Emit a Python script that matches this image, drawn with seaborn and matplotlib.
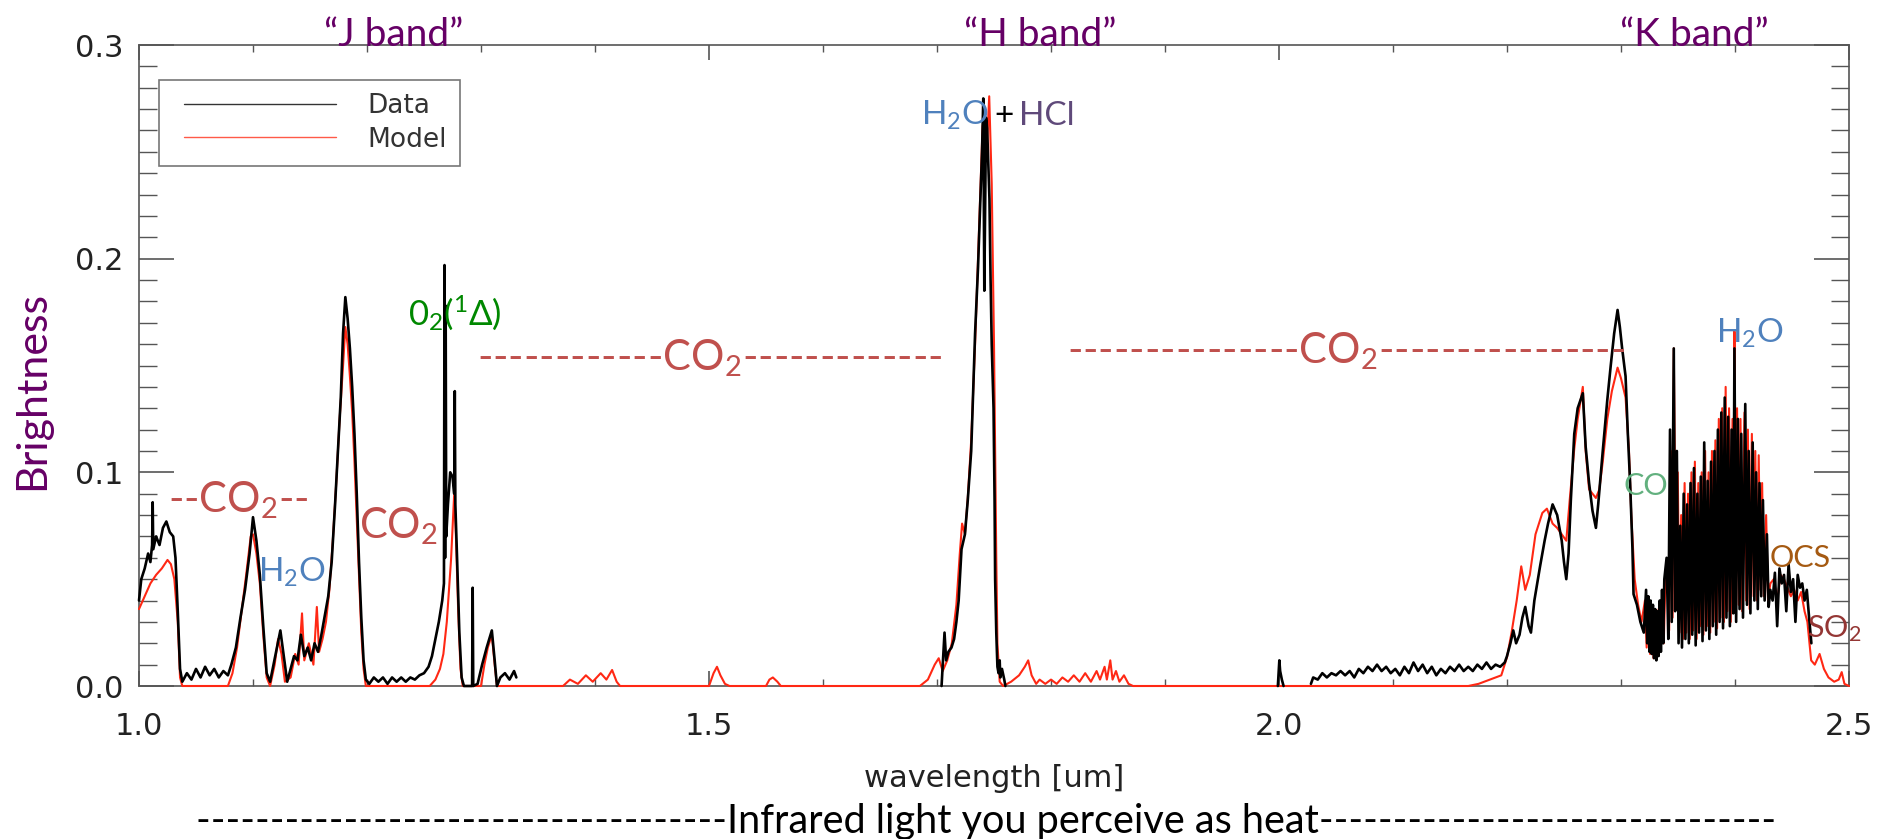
import numpy as np
import pandas as pd
import matplotlib
matplotlib.use("Agg")
import matplotlib.pyplot as plt
from matplotlib.lines import Line2D
from matplotlib.legend_handler import HandlerLine2D
from matplotlib.ticker import MultipleLocator, FormatStrFormatter
import seaborn as sns

# observed spectrum (wavelength um, brightness), one list per continuous piece
data_j = [
    (1.000, 0.040), (1.002, 0.050), (1.005, 0.055), (1.008, 0.062), (1.010, 0.058),
    (1.0115, 0.066), (1.012, 0.086), (1.0125, 0.064), (1.015, 0.070), (1.018, 0.066),
    (1.021, 0.074), (1.024, 0.077), (1.027, 0.072), (1.030, 0.070), (1.032, 0.060),
    (1.034, 0.035), (1.036, 0.008), (1.038, 0.002), (1.042, 0.006), (1.046, 0.003),
    (1.050, 0.008), (1.054, 0.004), (1.058, 0.009), (1.062, 0.005), (1.066, 0.008),
    (1.070, 0.004), (1.074, 0.007), (1.078, 0.005), (1.081, 0.010), (1.085, 0.018),
    (1.089, 0.032), (1.093, 0.045), (1.097, 0.062), (1.100, 0.079), (1.103, 0.068),
    (1.106, 0.052), (1.109, 0.028), (1.112, 0.006), (1.115, 0.002), (1.118, 0.010),
    (1.121, 0.018), (1.124, 0.026), (1.127, 0.014), (1.130, 0.002), (1.133, 0.008),
    (1.136, 0.014), (1.139, 0.012), (1.142, 0.024), (1.145, 0.014), (1.148, 0.018),
    (1.151, 0.012), (1.154, 0.020), (1.157, 0.016), (1.160, 0.024), (1.163, 0.033),
    (1.166, 0.042), (1.169, 0.058), (1.172, 0.085), (1.1745, 0.110), (1.177, 0.135),
    (1.179, 0.165), (1.181, 0.182), (1.183, 0.172), (1.185, 0.158), (1.187, 0.140),
    (1.189, 0.118), (1.191, 0.090), (1.193, 0.058), (1.195, 0.032), (1.197, 0.012),
    (1.199, 0.003), (1.202, 0.001), (1.206, 0.004), (1.210, 0.002), (1.214, 0.004),
    (1.218, 0.001), (1.222, 0.004), (1.226, 0.002), (1.230, 0.004), (1.234, 0.002),
    (1.238, 0.004), (1.242, 0.003), (1.246, 0.005), (1.250, 0.006), (1.254, 0.009),
    (1.257, 0.014), (1.260, 0.022), (1.263, 0.030), (1.266, 0.040), (1.2675, 0.048),
    (1.268, 0.197), (1.2685, 0.060), (1.269, 0.178), (1.2695, 0.070), (1.271, 0.085),
    (1.273, 0.100), (1.275, 0.098), (1.2765, 0.090), (1.277, 0.138), (1.2775, 0.085),
    (1.279, 0.060), (1.281, 0.025), (1.283, 0.004), (1.285, 0.000), (1.2922, 0.000),
    (1.2927, 0.046), (1.2932, 0.000), (1.297, 0.001), (1.301, 0.010), (1.305, 0.018),
    (1.3095, 0.026), (1.312, 0.012), (1.314, 0.000), (1.317, 0.004), (1.321, 0.006),
    (1.325, 0.003), (1.329, 0.007), (1.331, 0.004),
]
data_h = [
    (1.704, 0.000), (1.7066, 0.025), (1.708, 0.012), (1.710, 0.016), (1.7127, 0.018),
    (1.715, 0.022), (1.717, 0.030), (1.719, 0.040), (1.7215, 0.064), (1.7245, 0.071),
    (1.727, 0.087), (1.730, 0.110), (1.7334, 0.165), (1.736, 0.196), (1.738, 0.227),
    (1.7395, 0.250), (1.7406, 0.275), (1.7415, 0.185), (1.743, 0.266), (1.744, 0.261),
    (1.746, 0.228), (1.747, 0.190), (1.748, 0.160), (1.7496, 0.130), (1.7505, 0.087),
    (1.751, 0.050), (1.752, 0.025), (1.753, 0.009), (1.754, 0.006), (1.755, 0.012),
    (1.7555, 0.004), (1.757, 0.008), (1.759, 0.003), (1.760, 0.000),
]
data_2um = [(1.999, 0.000), (2.0003, 0.012), (2.001, 0.007), (2.0025, 0.003), (2.004, 0.000)]
data_k = [
    (2.028, 0.001), (2.030, 0.004), (2.034, 0.003), (2.038, 0.006), (2.042, 0.004),
    (2.046, 0.006), (2.050, 0.005), (2.054, 0.007), (2.058, 0.005), (2.062, 0.007),
    (2.066, 0.004), (2.070, 0.008), (2.074, 0.006), (2.078, 0.009), (2.082, 0.007),
    (2.086, 0.010), (2.090, 0.007), (2.094, 0.009), (2.098, 0.006), (2.102, 0.008),
    (2.106, 0.005), (2.110, 0.009), (2.114, 0.006), (2.118, 0.011), (2.122, 0.007),
    (2.126, 0.010), (2.130, 0.006), (2.134, 0.009), (2.138, 0.005), (2.142, 0.008),
    (2.146, 0.006), (2.150, 0.009), (2.154, 0.007), (2.158, 0.010), (2.162, 0.007),
    (2.166, 0.009), (2.170, 0.007), (2.174, 0.010), (2.178, 0.008), (2.182, 0.011),
    (2.186, 0.008), (2.190, 0.010), (2.194, 0.009), (2.198, 0.011),
    (2.200, 0.014), (2.203, 0.020), (2.2055, 0.026), (2.208, 0.020), (2.211, 0.024),
    (2.2135, 0.032), (2.216, 0.037), (2.219, 0.028), (2.221, 0.025), (2.224, 0.040),
    (2.229, 0.056), (2.233, 0.068), (2.236, 0.076), (2.240, 0.085), (2.244, 0.080),
    (2.248, 0.068), (2.250, 0.058), (2.252, 0.050), (2.254, 0.062), (2.256, 0.087),
    (2.259, 0.118), (2.262, 0.130), (2.2665, 0.137), (2.269, 0.112), (2.272, 0.095),
    (2.275, 0.082), (2.278, 0.074), (2.280, 0.085), (2.284, 0.110), (2.288, 0.134),
    (2.291, 0.150), (2.294, 0.165), (2.297, 0.176), (2.299, 0.168), (2.301, 0.158),
    (2.304, 0.145), (2.306, 0.118), (2.308, 0.095), (2.310, 0.065), (2.311, 0.043),
    (2.314, 0.038), (2.317, 0.030), (2.320, 0.025),
    (2.322, 0.045), (2.323, 0.020), (2.324, 0.042), (2.325, 0.016), (2.326, 0.040),
    (2.327, 0.015), (2.328, 0.038), (2.329, 0.013), (2.330, 0.036), (2.331, 0.012),
    (2.332, 0.035), (2.333, 0.014), (2.334, 0.040), (2.335, 0.016), (2.336, 0.045),
    (2.337, 0.020), (2.338, 0.050),
    (2.3400, 0.060), (2.3415, 0.022), (2.3430, 0.120), (2.3445, 0.030), (2.3463, 0.158),
    (2.3475, 0.035), (2.3490, 0.110), (2.3505, 0.020), (2.3520, 0.075), (2.3535, 0.018),
    (2.3550, 0.090), (2.3565, 0.022), (2.3580, 0.085), (2.3595, 0.020), (2.3610, 0.095),
    (2.3625, 0.024), (2.3640, 0.102), (2.3655, 0.019), (2.3670, 0.090), (2.3685, 0.025),
    (2.3700, 0.098), (2.3715, 0.021), (2.3730, 0.114), (2.3745, 0.026), (2.3760, 0.096),
    (2.3775, 0.022), (2.3790, 0.105), (2.3805, 0.028), (2.3820, 0.110), (2.3835, 0.024),
    (2.3850, 0.120), (2.3865, 0.030), (2.3880, 0.128), (2.3895, 0.027), (2.3910, 0.135),
    (2.3925, 0.032), (2.3940, 0.126), (2.3955, 0.028), (2.3970, 0.120), (2.3985, 0.034),
    (2.3995, 0.158), (2.4010, 0.030), (2.4025, 0.125), (2.4040, 0.036), (2.4055, 0.118),
    (2.4070, 0.032), (2.4090, 0.132), (2.4105, 0.038), (2.4120, 0.110), (2.4135, 0.034),
    (2.4155, 0.114), (2.4170, 0.040), (2.4185, 0.100), (2.4200, 0.036), (2.4215, 0.095),
    (2.4230, 0.042), (2.4245, 0.087), (2.4260, 0.040), (2.4280, 0.071),
    (2.4295, 0.037), (2.431, 0.045), (2.433, 0.040), (2.435, 0.053), (2.437, 0.028),
    (2.439, 0.055), (2.441, 0.048), (2.443, 0.052), (2.445, 0.035), (2.447, 0.057),
    (2.449, 0.044), (2.451, 0.050), (2.453, 0.030), (2.455, 0.052), (2.457, 0.046),
    (2.459, 0.048), (2.461, 0.040), (2.463, 0.045), (2.465, 0.032), (2.467, 0.020),
]

# model spectrum, continuous over the whole range
model_j = [
    (1.000, 0.036), (1.005, 0.042), (1.010, 0.048), (1.015, 0.052), (1.020, 0.055),
    (1.025, 0.059), (1.028, 0.057), (1.031, 0.050), (1.034, 0.030), (1.036, 0.004),
    (1.038, 0.000), (1.078, 0.000), (1.082, 0.006), (1.086, 0.018), (1.090, 0.035),
    (1.094, 0.052), (1.098, 0.070), (1.100, 0.071), (1.103, 0.062), (1.106, 0.048),
    (1.109, 0.024), (1.112, 0.004), (1.115, 0.000), (1.119, 0.010), (1.122, 0.022),
    (1.125, 0.015), (1.128, 0.002), (1.133, 0.004), (1.137, 0.015), (1.140, 0.010),
    (1.143, 0.034), (1.145, 0.012), (1.149, 0.020), (1.153, 0.010), (1.156, 0.037),
    (1.158, 0.016), (1.161, 0.022), (1.164, 0.030), (1.167, 0.045), (1.170, 0.068),
    (1.173, 0.095), (1.176, 0.125), (1.179, 0.150), (1.181, 0.168), (1.183, 0.160),
    (1.185, 0.145), (1.187, 0.128), (1.189, 0.105), (1.191, 0.078), (1.193, 0.050),
    (1.195, 0.025), (1.197, 0.008), (1.199, 0.000), (1.255, 0.000), (1.260, 0.003),
    (1.264, 0.008), (1.267, 0.015), (1.270, 0.030), (1.2737, 0.059), (1.2765, 0.090),
    (1.278, 0.070), (1.280, 0.035), (1.282, 0.008), (1.284, 0.000), (1.300, 0.000),
    (1.303, 0.010), (1.306, 0.018), (1.3095, 0.024), (1.312, 0.010), (1.314, 0.000),
    (1.372, 0.000), (1.378, 0.003), (1.385, 0.001), (1.392, 0.005), (1.398, 0.002),
    (1.405, 0.006), (1.410, 0.003), (1.415, 0.0075), (1.419, 0.002), (1.422, 0.000),
    (1.500, 0.000), (1.504, 0.006), (1.507, 0.009), (1.510, 0.005), (1.514, 0.001),
    (1.518, 0.000), (1.550, 0.000), (1.553, 0.003), (1.556, 0.004), (1.560, 0.002),
    (1.563, 0.000),
]
model_h = [
    (1.685, 0.000), (1.692, 0.003), (1.698, 0.010), (1.7015, 0.013), (1.705, 0.007),
    (1.709, 0.012), (1.713, 0.020), (1.717, 0.038), (1.720, 0.062), (1.722, 0.076),
    (1.7245, 0.071), (1.727, 0.088), (1.730, 0.115), (1.7334, 0.160), (1.736, 0.200),
    (1.738, 0.232), (1.740, 0.262), (1.742, 0.268), (1.744, 0.255), (1.7458, 0.276),
    (1.748, 0.235), (1.750, 0.160), (1.751, 0.110), (1.752, 0.060), (1.753, 0.020),
    (1.755, 0.002), (1.758, 0.000), (1.765, 0.002), (1.772, 0.005), (1.777, 0.009),
    (1.780, 0.012), (1.783, 0.005), (1.787, 0.001), (1.790, 0.003), (1.795, 0.001),
    (1.800, 0.003), (1.805, 0.001), (1.810, 0.004), (1.815, 0.002), (1.820, 0.005),
    (1.825, 0.002), (1.830, 0.006), (1.835, 0.002), (1.840, 0.007), (1.843, 0.003),
    (1.847, 0.009), (1.849, 0.003), (1.852, 0.012), (1.854, 0.003), (1.857, 0.007),
    (1.860, 0.002), (1.864, 0.005), (1.868, 0.001), (1.872, 0.000), (2.160, 0.000),
]
model_k = [
    (2.166, 0.000), (2.175, 0.001), (2.185, 0.003), (2.195, 0.005), (2.200, 0.0135),
    (2.204, 0.025), (2.2085, 0.040), (2.2125, 0.056), (2.216, 0.045), (2.220, 0.052),
    (2.225, 0.071), (2.231, 0.081), (2.235, 0.083), (2.240, 0.076), (2.244, 0.074),
    (2.248, 0.071), (2.252, 0.068), (2.255, 0.087), (2.259, 0.111), (2.262, 0.125),
    (2.2665, 0.140), (2.269, 0.110), (2.272, 0.092), (2.275, 0.090), (2.278, 0.088),
    (2.281, 0.092), (2.284, 0.105), (2.288, 0.125), (2.292, 0.138), (2.297, 0.149),
    (2.300, 0.144), (2.304, 0.135), (2.307, 0.110), (2.309, 0.080), (2.312, 0.050),
    (2.315, 0.038), (2.318, 0.030),
    (2.321, 0.040), (2.3225, 0.018), (2.324, 0.038), (2.3255, 0.015), (2.327, 0.036),
    (2.3285, 0.013), (2.330, 0.034), (2.3315, 0.014), (2.333, 0.036), (2.3345, 0.017),
    (2.336, 0.042), (2.3375, 0.020), (2.339, 0.050),
    (2.34075, 0.050), (2.34225, 0.026), (2.34375, 0.110), (2.34525, 0.032), (2.3463, 0.158),
    (2.3483, 0.040), (2.3498, 0.100), (2.3513, 0.025), (2.3528, 0.080), (2.3543, 0.022),
    (2.3558, 0.095), (2.3573, 0.025), (2.3588, 0.090), (2.3603, 0.022), (2.3618, 0.100),
    (2.3633, 0.026), (2.3648, 0.105), (2.3663, 0.022), (2.3678, 0.095), (2.3693, 0.028),
    (2.3708, 0.100), (2.3723, 0.024), (2.3738, 0.110), (2.3753, 0.028), (2.3768, 0.100),
    (2.3783, 0.025), (2.3798, 0.110), (2.3813, 0.030), (2.3828, 0.115), (2.3843, 0.027),
    (2.3858, 0.125), (2.3873, 0.032), (2.3888, 0.130), (2.3903, 0.030), (2.3918, 0.140),
    (2.3933, 0.035), (2.3948, 0.130), (2.3963, 0.030), (2.3978, 0.125), (2.3990, 0.040),
    (2.3995, 0.166), (2.4005, 0.060), (2.4018, 0.130), (2.4033, 0.038), (2.4048, 0.125),
    (2.4063, 0.035), (2.4083, 0.128), (2.4098, 0.040), (2.4113, 0.120), (2.4128, 0.036),
    (2.4148, 0.118), (2.4163, 0.042), (2.4178, 0.110), (2.4193, 0.040), (2.4208, 0.108),
    (2.4223, 0.045), (2.4238, 0.095), (2.4253, 0.042), (2.4273, 0.080),
    (2.429, 0.040), (2.431, 0.048), (2.434, 0.050), (2.437, 0.040), (2.440, 0.052),
    (2.443, 0.050), (2.446, 0.046), (2.449, 0.042), (2.452, 0.045), (2.455, 0.040),
    (2.458, 0.044), (2.461, 0.035), (2.4635, 0.030), (2.4668, 0.012), (2.470, 0.010),
    (2.4742, 0.015), (2.478, 0.008), (2.482, 0.004), (2.487, 0.002), (2.491, 0.003),
    (2.4936, 0.0065), (2.496, 0.001), (2.500, 0.000),
]

x_ticks = [1.0, 1.5, 2.0, 2.5]
y_ticks = [0.0, 0.1, 0.2, 0.3]
band_names = ["\u201cJ band\u201d", "\u201cH band\u201d", "\u201cK band\u201d"]

RED = "#FF2814"
PURPLE = "#660066"
CO2_RED = "#C0504D"
H2O_BLUE = "#4F81BD"

rows = []
for i, seg in enumerate([data_j, data_h, data_2um, data_k]):
    for w, b in seg:
        rows.append((i, w, b))
data_df = pd.DataFrame(rows, columns=["segment", "wavelength", "brightness"])
model_df = pd.DataFrame(model_j + model_h + model_k, columns=["wavelength", "brightness"])

sns.set_style("white")
plt.rcParams["font.family"] = ["DejaVu Sans"]
plt.rcParams["mathtext.fontset"] = "custom"
plt.rcParams["mathtext.rm"] = "Lato"
plt.rcParams["mathtext.default"] = "regular"

W, H = 1881, 839
fig = plt.figure(figsize=(W / 100, H / 100), dpi=100)
ax = fig.add_axes([139 / W, 153 / H, 1710 / W, 641 / H])

sns.lineplot(data=model_df, x="wavelength", y="brightness", color=RED, lw=1.5,
             estimator=None, sort=False, ax=ax, legend=False)
sns.lineplot(data=data_df, x="wavelength", y="brightness", units="segment", color="black",
             lw=1.9, estimator=None, sort=False, ax=ax, legend=False)
for i, ln in enumerate(ax.lines):
    ln.set_clip_on(False)
    ln.set_zorder(3 + 0.1 * i)

ax.set_xlim(1.0, 2.5)
ax.set_ylim(0, 0.3)
ax.set_xticks(x_ticks)
ax.set_yticks(y_ticks)
ax.xaxis.set_minor_locator(MultipleLocator(0.1))
ax.yaxis.set_minor_locator(MultipleLocator(0.01))
ax.xaxis.set_major_formatter(FormatStrFormatter("%.1f"))
ax.yaxis.set_major_formatter(FormatStrFormatter("%.1f"))
ax.tick_params(axis="x", which="major", direction="in", length=11, width=1.2, color="#555555",
               top=True, bottom=True, labelsize=22, pad=19, labelcolor="#222222")
ax.tick_params(axis="x", which="minor", direction="in", length=5, width=1.0, color="#555555",
               top=True, bottom=True)
ax.tick_params(axis="y", which="major", direction="in", length=25, width=1.2, color="#555555",
               left=True, right=True, labelsize=22, pad=11, labelcolor="#222222")
ax.tick_params(axis="y", which="minor", direction="in", length=13, width=1.0, color="#555555",
               left=True, right=True)
for sp in ax.spines.values():
    sp.set_color("#555555")
    sp.set_linewidth(1.2)
ax.set_xlabel("wavelength [um]", fontsize=22, labelpad=16, color="#222222")
ax.set_ylabel("")

handles = [Line2D([], [], color="#333333", lw=1.0, label="Data"),
           Line2D([], [], color="#FF5A48", lw=1.0, label="Model")]
leg = ax.legend(handles=handles, loc="upper left", bbox_to_anchor=(0.0117, 0.946),
                borderaxespad=0, frameon=True, fancybox=False, edgecolor="#555555",
                fontsize=19, handlelength=6.2, handletextpad=1.2, labelspacing=0.3,
                borderpad=0.5, handler_map={Line2D: HandlerLine2D(xpad=0.45)})
leg.get_frame().set_linewidth(1.2)
for t in leg.get_texts():
    t.set_color("#333333")

LATO = ["Lato", "DejaVu Sans"]


def put(x, y, s, color, size, **kw):
    # x, y in pixels of the 1881x839 canvas, text baseline at y
    fig.text(x / W, 1 - y / H, s, color=color, fontsize=size, family=LATO,
             ha="center", va="baseline", **kw)


# band titles
for name, xc in zip(band_names, [394, 1040, 1694]):
    put(xc, 46, name, PURPLE, 28)

fig.text(32 / W, 1 - 390 / H, "Brightness", color=PURPLE, fontsize=31, family=LATO,
         rotation=90, ha="center", va="center")

put(238, 512, "--CO$_2$--", CO2_RED, 30)
put(292, 582, "H$_2$O", H2O_BLUE, 24)
put(398, 538, "CO$_2$", CO2_RED, 30)
put(455, 325, "0$_2$($^1$\u0394)", "#008800", 25)
put(710, 370, "-" * 12 + "CO$_2$" + "-" * 13, CO2_RED, 30)
put(1346, 363, "-" * 15 + "CO$_2$" + "-" * 16, CO2_RED, 30)
put(955, 125, "H$_2$O", H2O_BLUE, 24)
put(1004, 125, "+", "black", 24)
put(1047, 125, "HCl", "#5F497A", 24)
put(1750, 343, "H$_2$O", H2O_BLUE, 24)
put(1646, 495, "CO", "#62B07E", 22)
put(1800, 567, "OCS", "#A55A12", 22)
put(1834, 637, "SO$_2$", "#943634", 22)

put(986, 833, "-" * 36 + "Infrared light you perceive as heat" + "-" * 31, "black", 28.5)

fig.savefig("out.png", dpi=100)
